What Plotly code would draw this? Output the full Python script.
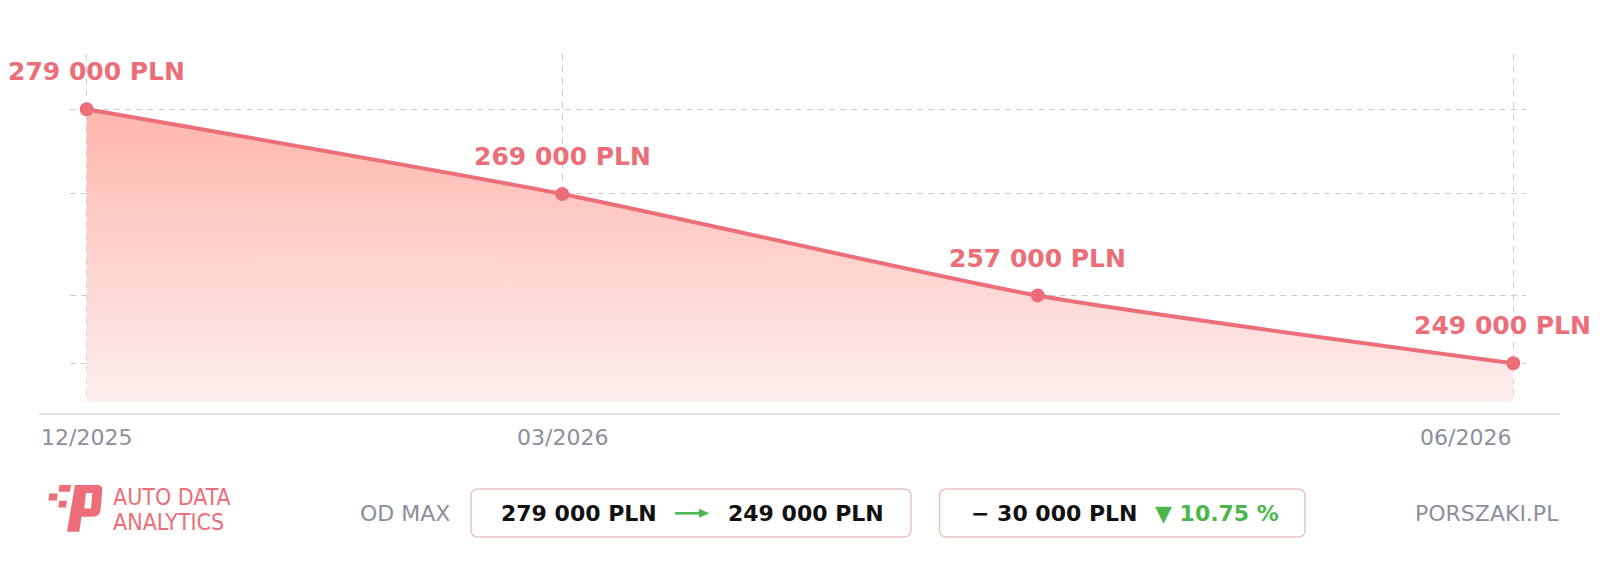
import plotly.graph_objects as go

# ---------------- data ----------------
point_index = [0, 1, 2, 3]
prices = [279000, 269000, 257000, 249000]
tick_positions = [0, 1, 3]
tick_labels = ["12/2025", "03/2026", "06/2026"]
currency = "PLN"
brand_lines = ["AUTO DATA", "ANALYTICS"]
source_label = "PORSZAKI.PL"
range_label = "OD MAX"

# ---------------- style ----------------
RED = "#EC6E79"
GREEN = "#4CB64C"
GRAY = "#8C8F9B"
GRID = "#CDCDCD"
W, H = 1600, 569
PL, PR, PT, PB = 70, 1526, 54, 402

def fmt(v):
    return f"{v:,}".replace(",", " ") + " " + currency

def px_x(px):
    return (px - PL) / (PR - PL)

def px_y(py):
    return (PB - py) / (PB - PT)

def path_px(pts):
    s = ""
    for cmd, coords in pts:
        s += cmd
        for (a, b) in coords:
            s += f" {px_x(a):.5f},{px_y(b):.5f}"
        s += " "
    return s + "Z"

def rrect(x0, y0, x1, y1, r):
    return path_px([
        ("M", [(x0 + r, y0)]), ("L", [(x1 - r, y0)]), ("Q", [(x1, y0), (x1, y0 + r)]),
        ("L", [(x1, y1 - r)]), ("Q", [(x1, y1), (x1 - r, y1)]), ("L", [(x0 + r, y1)]),
        ("Q", [(x0, y1), (x0, y1 - r)]), ("L", [(x0, y0 + r)]), ("Q", [(x0, y0), (x0 + r, y0)]),
    ])

def poly(pts):
    return path_px([("M", [pts[0]])] + [("L", [p]) for p in pts[1:]])

y_min, y_max = 244429, 285531
x_min, x_max = -0.0351, 3.0267

fig = go.Figure()
fig.add_trace(go.Scatter(
    x=point_index, y=prices, mode="lines+markers",
    line=dict(color=RED, width=4, shape="spline", smoothing=0.6),
    marker=dict(color=RED, size=14),
    fill="tozeroy",
    fillgradient=dict(type="vertical",
                      colorscale=[[0, "#FDEEEE"], [1, "#FFB6AC"]],
                      start=y_min, stop=max(prices)),
    hoverinfo="skip",
))

annotations = []
xshifts = [10, 0, 0, -11]
for xi, v, xs in zip(point_index, prices, xshifts):
    annotations.append(dict(
        x=xi, y=v, xref="x", yref="y", text=f"<b>{fmt(v)}</b>", showarrow=False,
        xanchor="center", yanchor="bottom", yshift=21, xshift=xs,
        font=dict(family="DejaVu Sans", size=25, color=RED),
    ))

# x tick labels (last one right-aligned to its tick)
tick_anchor = ["center", "center", "right"]
for pos, lab, anc in zip(tick_positions, tick_labels, tick_anchor):
    annotations.append(dict(
        x=pos, y=px_y(437.5), xref="x", yref="paper", text=lab, showarrow=False,
        xanchor=anc, yanchor="middle",
        font=dict(family="DejaVu Sans", size=22, color=GRAY),
    ))

first, last = prices[0], prices[-1]
diff = first - last
pct = diff / first * 100

FOOT_Y = 513
def foot(text, px, anchor, color, size=22, family="DejaVu Sans", py=FOOT_Y):
    annotations.append(dict(
        x=px_x(px), y=px_y(py), xref="paper", yref="paper", text=text, showarrow=False,
        xanchor=anchor, yanchor="middle",
        font=dict(family=family, size=size, color=color),
    ))

foot(range_label, 452, "right", GRAY)
foot(f"<b>{fmt(first)}</b>", 499, "left", "#111111")
foot(f"<b>{fmt(last)}</b>", 726, "left", "#111111")
foot(f"<b>− {fmt(diff)}</b>", 969, "left", "#111111")
foot(f"<b>▼ {pct:.2f} %</b>", 1153, "left", GREEN)
foot(source_label, 1561, "right", GRAY)
BRAND_FONT = "Liberation Sans Narrow, DejaVu Sans Condensed, sans-serif"
foot(brand_lines[0], 110.5, "left", RED, size=23, family=BRAND_FONT, py=496.7)
foot(brand_lines[1], 110.5, "left", RED, size=23, family=BRAND_FONT, py=521.7)

shapes = [
    # axis baseline
    dict(type="line", xref="paper", yref="paper", x0=px_x(39), x1=px_x(1560),
         y0=px_y(414), y1=px_y(414), line=dict(color="#DADADA", width=1.5), layer="below"),
    # boxes
    dict(type="path", xref="paper", yref="paper", path=rrect(471, 489, 911, 537, 7),
         line=dict(color="#E8C4C4", width=1.5), fillcolor="white"),
    dict(type="path", xref="paper", yref="paper", path=rrect(939.5, 489, 1305, 537, 7),
         line=dict(color="#E8C4C4", width=1.5), fillcolor="white"),
    # green arrow
    dict(type="line", xref="paper", yref="paper", x0=px_x(675), x1=px_x(701),
         y0=px_y(513.3), y1=px_y(513.3), line=dict(color=GREEN, width=2.5)),
    dict(type="path", xref="paper", yref="paper",
         path=poly([(699, 508.8), (709.5, 513.3), (699, 517.8)]),
         line=dict(color=GREEN, width=0), fillcolor=GREEN),
    # logo
    dict(type="path", xref="paper", yref="paper",
         path=path_px([("M", [(75, 485)]), ("L", [(97, 485)]), ("Q", [(103, 485), (102.3, 491)]),
                       ("L", [(100.5, 510)]), ("Q", [(99.8, 516.7), (93, 516.7)]),
                       ("L", [(81.5, 516.7)]), ("L", [(79.3, 531.7)]), ("L", [(67, 531.7)])]),
         line=dict(width=0), fillcolor=RED),
    dict(type="path", xref="paper", yref="paper",
         path=poly([(86, 493), (92.3, 493), (91, 508.5), (84.3, 508.5)]),
         line=dict(width=0), fillcolor="white"),
    dict(type="path", xref="paper", yref="paper",
         path=poly([(59.5, 485), (71, 485), (70, 491.7), (58.5, 491.7)]),
         line=dict(width=0), fillcolor=RED),
    dict(type="path", xref="paper", yref="paper",
         path=poly([(49.3, 493.5), (57.8, 493.5), (56.8, 500.5), (48.3, 500.5)]),
         line=dict(width=0), fillcolor=RED),
    dict(type="path", xref="paper", yref="paper",
         path=poly([(59.2, 500.7), (67, 500.7), (66, 507.5), (58.2, 507.5)]),
         line=dict(width=0), fillcolor=RED),
]

fig.update_layout(
    width=W, height=H,
    margin=dict(l=PL, r=W - PR, t=PT, b=H - PB, pad=0),
    paper_bgcolor="white", plot_bgcolor="white",
    showlegend=False,
    annotations=annotations,
    shapes=shapes,
    xaxis=dict(range=[x_min, x_max], tickmode="array", tickvals=tick_positions,
               ticktext=tick_labels, showticklabels=False,
               showgrid=True, gridcolor=GRID, gridwidth=1,
               griddash="6px,6px", zeroline=False, showline=False, ticks="", fixedrange=True),
    yaxis=dict(range=[y_min, y_max], tickmode="array", tickvals=prices,
               showticklabels=False, showgrid=True, gridcolor=GRID, gridwidth=1,
               griddash="6px,5px", zeroline=False, showline=False, ticks="", fixedrange=True),
)

fig.write_html("out.html",
               config={"displayModeBar": False, "staticPlot": True},
               post_script="document.body.style.margin='0';document.body.style.padding='0';")
